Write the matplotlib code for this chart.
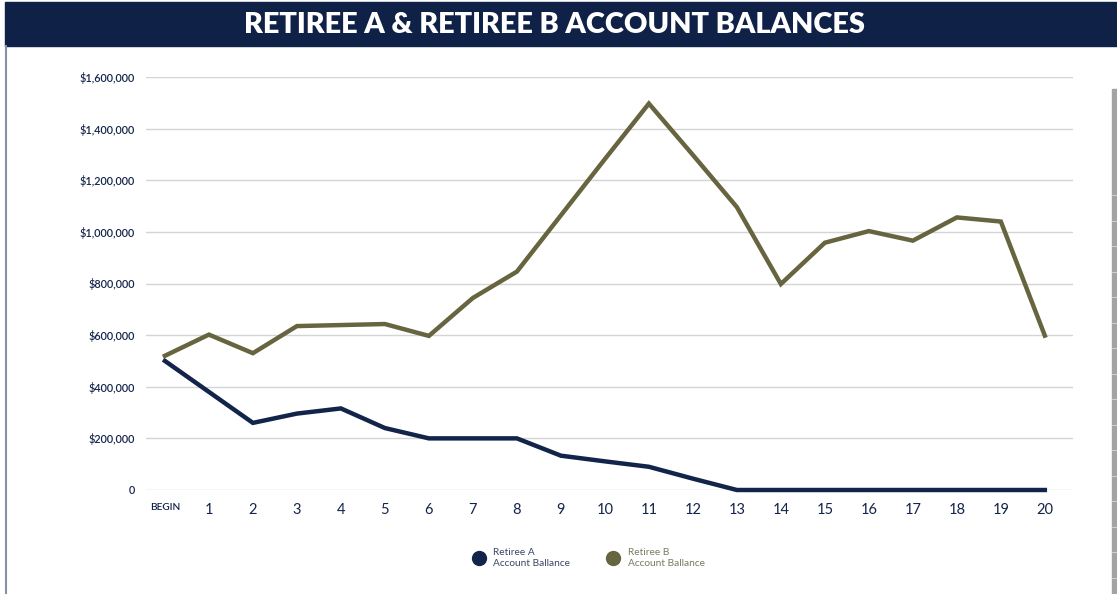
import numpy as np
import matplotlib.pyplot as plt
from matplotlib.patches import Rectangle
from matplotlib.lines import Line2D
from matplotlib.ticker import FuncFormatter

plt.rcParams['font.family'] = ['Lato', 'DejaVu Sans']

# data
years = ['BEGIN'] + [str(i) for i in range(1, 21)]
retiree_a = [500000, 380000, 260000, 296000, 316000, 240000, 200000, 200000, 200000,
             133000, 111000, 90000, 44000, 0, 0, 0, 0, 0, 0, 0, 0]
retiree_b = [520000, 602000, 530000, 635000, 639000, 643000, 597000, 744000, 846000,
             1064000, 1282000, 1497000, 1298000, 1096000, 798000, 958000, 1003000,
             966000, 1056000, 1040000, 598000]
y_ticks = [0, 200000, 400000, 600000, 800000, 1000000, 1200000, 1400000, 1600000]

NAVY = '#13244a'
OLIVE = '#67653f'
GRID = '#d4d4d4'

fig = plt.figure(figsize=(11.17, 5.94), dpi=100)

# title banner
fig.patches.append(Rectangle((5 / 1117, 1 - 46 / 594), 1, 44 / 594, transform=fig.transFigure,
                             color='#0f2146', zorder=0))
fig.text(554 / 1117, 1 - 25 / 594, 'RETIREE A & RETIREE B ACCOUNT BALANCES', color='white',
         fontsize=20.8, fontweight='heavy', ha='center', va='center')

# left border and right scroll bar
fig.lines.append(Line2D([5.5 / 1117, 5.5 / 1117], [0, 1 - 46 / 594], transform=fig.transFigure,
                        color='#8590a6', lw=1.5))
fig.patches.append(Rectangle((1112 / 1117, 0), 5 / 1117, 1 - 89 / 594, transform=fig.transFigure,
                             color='#a3a3a3'))
for yy in np.arange(195, 594, 25.5):
    fig.lines.append(Line2D([1112 / 1117, 1], [1 - yy / 594] * 2, transform=fig.transFigure,
                            color='#d9d9d9', lw=0.6))

ax = fig.add_axes([146 / 1117, 1 - 490 / 594, 927 / 1117, 413 / 594])
x = np.arange(len(years))
ax.plot(x, retiree_a, color=NAVY, lw=3.2, solid_joinstyle='miter', clip_on=False, zorder=3)
ax.plot(x, retiree_b, color=OLIVE, lw=3.2, solid_joinstyle='miter', clip_on=False, zorder=3)

ax.set_xlim(-0.43, 20.64)
ax.set_ylim(0, 1600000)
ax.set_yticks(y_ticks)
ax.yaxis.set_major_formatter(FuncFormatter(lambda v, p: '0' if v == 0 else '${:,.0f}'.format(v)))
ax.set_xticks(x)
ax.set_xticklabels(years)
for lbl in ax.get_xticklabels():
    if lbl.get_text() == 'BEGIN':
        lbl.set_fontsize(7.3)
        lbl.set_fontweight('semibold')
    else:
        lbl.set_fontsize(10.5)
ax.tick_params(axis='x', length=0, pad=9, colors=NAVY)
ax.tick_params(axis='y', length=0, pad=8, colors=NAVY, labelsize=7.8)
for lbl in ax.get_yticklabels():
    lbl.set_fontweight('semibold')
ax.grid(axis='y', color=GRID, lw=1)
for s in ax.spines.values():
    s.set_visible(False)

# legend
fig.lines.append(Line2D([479 / 1117], [1 - 558 / 594], transform=fig.transFigure, marker='o',
                        ms=10, color=NAVY, lw=0))
fig.text(493 / 1117, 1 - 558 / 594, 'Retiree A\nAccount Ballance', color='#3a4766',
         fontsize=7.3, va='center', ha='left', linespacing=1.3)
fig.lines.append(Line2D([613 / 1117], [1 - 558 / 594], transform=fig.transFigure, marker='o',
                        ms=10, color=OLIVE, lw=0))
fig.text(628 / 1117, 1 - 558 / 594, 'Retiree B\nAccount Ballance', color='#7b7a5e',
         fontsize=7.3, va='center', ha='left', linespacing=1.3)

fig.savefig('out.png', dpi=100)
